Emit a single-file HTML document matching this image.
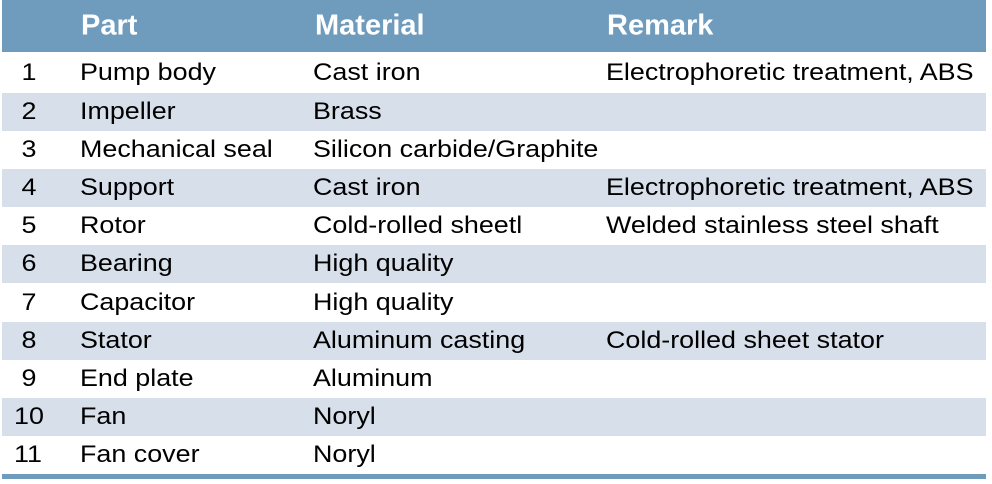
<!DOCTYPE html>
<html><head><style>
body{margin:0;width:992px;height:484px;background:#fff;font-family:"Liberation Sans",Arial,sans-serif;overflow:hidden;position:relative}
.r{position:absolute;left:2px;width:984px;}
.h{top:0;height:52px;background:#6f9bbd;color:#fff;font-weight:bold}
.s{background:#d6dfea}
.r span{position:absolute;top:50%;transform:translateY(-50%) scaleX(1.12);transform-origin:left center;white-space:nowrap;font-size:24px;color:#000}
.h span{color:#fff;font-size:29px;transform:translateY(-50%)}
.n{left:12px}.p{left:78px}.m{left:311px}.k{left:604px}
.h .p{left:79px}.h .m{left:313px}.h .k{left:605px}
.bot{position:absolute;left:2px;width:984px;top:474px;height:5px;background:#6f9bbd}
</style></head><body>
<div class="r h"><span class="p">Part</span><span class="m">Material</span><span class="k">Remark</span></div>
<div class="r" style="top:52px;height:41px"><span class="n">&nbsp;1</span><span class="p">Pump body</span><span class="m">Cast iron</span><span class="k">Electrophoretic treatment, ABS</span></div>
<div class="r s" style="top:93px;height:38.1px"><span class="n">&nbsp;2</span><span class="p">Impeller</span><span class="m">Brass</span></div>
<div class="r" style="top:131.1px;height:38.1px"><span class="n">&nbsp;3</span><span class="p">Mechanical seal</span><span class="m">Silicon carbide/Graphite</span></div>
<div class="r s" style="top:169.2px;height:38.1px"><span class="n">&nbsp;4</span><span class="p">Support</span><span class="m">Cast iron</span><span class="k">Electrophoretic treatment, ABS</span></div>
<div class="r" style="top:207.3px;height:38.1px"><span class="n">&nbsp;5</span><span class="p">Rotor</span><span class="m">Cold-rolled sheetl</span><span class="k">Welded stainless steel shaft</span></div>
<div class="r s" style="top:245.4px;height:38.1px"><span class="n">&nbsp;6</span><span class="p">Bearing</span><span class="m">High quality</span></div>
<div class="r" style="top:283.5px;height:38.1px"><span class="n">&nbsp;7</span><span class="p">Capacitor</span><span class="m">High quality</span></div>
<div class="r s" style="top:321.6px;height:38.1px"><span class="n">&nbsp;8</span><span class="p">Stator</span><span class="m">Aluminum casting</span><span class="k">Cold-rolled sheet stator</span></div>
<div class="r" style="top:359.7px;height:38.1px"><span class="n">&nbsp;9</span><span class="p">End plate</span><span class="m">Aluminum</span></div>
<div class="r s" style="top:397.8px;height:38.1px"><span class="n">10</span><span class="p">Fan</span><span class="m">Noryl</span></div>
<div class="r" style="top:435.9px;height:38.1px"><span class="n">11</span><span class="p">Fan cover</span><span class="m">Noryl</span></div>
<div class="bot"></div>
</body></html>
